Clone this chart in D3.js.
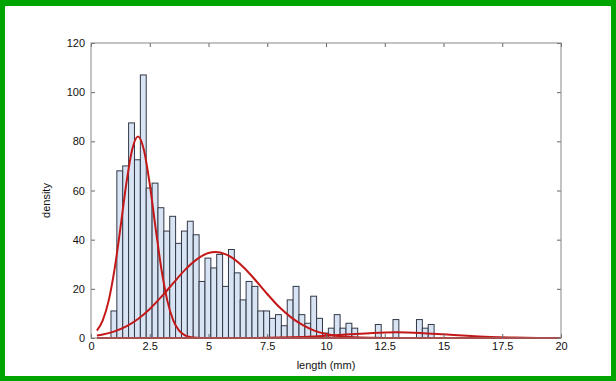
<!DOCTYPE html>
<html>
<head>
<meta charset="utf-8">
<script src="https://cdn.jsdelivr.net/npm/d3@7"></script>
<style>
  body { margin: 0; background: #00a400; }
  text { font-family: "Liberation Sans", Arial, sans-serif; }
</style>
</head>
<body>
<div id="chart"></div>
<script>
// histogram bins (centres in mm) and their heights
const binWidth = 0.25;
const binCenters = [0.975, 1.225, 1.475, 1.725, 1.975, 2.225, 2.475, 2.725, 2.975, 3.225,
  3.475, 3.725, 3.975, 4.225, 4.475, 4.725, 4.975, 5.225, 5.475, 5.725,
  5.975, 6.225, 6.475, 6.725, 6.975, 7.225, 7.475, 7.725, 7.975, 8.225,
  8.475, 8.725, 8.975, 9.225, 9.475, 9.725, 9.975, 10.225, 10.475, 10.725,
  10.975, 11.225, 11.475, 11.725, 11.975, 12.225, 12.475, 12.725, 12.975, 13.225,
  13.475, 13.725, 13.975, 14.225, 14.475];
const density = [11, 68, 70, 87.5, 72.5, 107, 61, 63, 53, 43.5,
  49.5, 38.5, 43.5, 47.5, 42, 23, 32.5, 28.5, 34, 21,
  36, 26.5, 15.5, 23, 21, 11, 11, 8, 9.5, 5,
  15.5, 21, 9.5, 6, 17, 8, 2, 4, 9.5, 4,
  6, 4, 0, 0, 0, 5.5, 0, 0, 7.5, 0,
  0, 0, 7.5, 4, 5.5];

// fitted components
const fit1X = [0.25, 0.5, 0.75, 1, 1.25, 1.5, 1.75, 2, 2.25, 2.5, 2.75, 3, 3.25, 3.5, 3.75, 4, 4.25, 4.5, 5, 20];
const fit1Y = [3, 7.2, 15.1, 27.8, 44.6, 62.6, 76.6, 82, 76.6, 62.6, 44.6, 27.8, 15.1, 7.2, 3, 1.1, 0.35, 0.1, 0, 0];
const fit2X = [0.25, 0.5, 1, 1.5, 2, 2.5, 3, 3.5, 4, 4.5, 5, 5.3, 5.5, 6, 6.5, 7, 7.5, 8, 8.5, 9, 9.5, 10, 10.5, 11, 11.5, 12, 13, 20];
const fit2Y = [1, 1.4, 2.7, 4.7, 7.7, 11.8, 16.8, 22.3, 27.7, 32, 34.6, 35, 34.8, 32.7, 28.7, 23.5, 17.9, 12.7, 8.5, 5.3, 3, 1.6, 0.8, 0.4, 0.2, 0.1, 0, 0];
const fit3X = [0.25, 6, 7, 8, 9, 10, 11, 12, 13, 14, 15, 16, 17, 18, 19, 20];
const fit3Y = [0, 0, 0.05, 0.17, 0.44, 0.9, 1.52, 2.07, 2.3, 2.07, 1.52, 0.9, 0.44, 0.17, 0.05, 0.01];

const xTicks = [0, 2.5, 5, 7.5, 10, 12.5, 15, 17.5, 20];
const yTicks = [0, 20, 40, 60, 80, 100, 120];

const W = 616, H = 381;
const margin = {top: 43, right: 55, bottom: 43, left: 91};
const width = W - margin.left - margin.right;
const height = H - margin.top - margin.bottom;

const svg = d3.select('#chart').append('svg')
    .attr('width', W)
    .attr('height', H);

// green frame
svg.append('rect').attr('width', W).attr('height', H).attr('fill', '#00a400');
svg.append('rect').attr('x', 5).attr('y', 6)
    .attr('width', W - 10).attr('height', H - 11).attr('fill', '#fff');

const chart = svg.append('g')
    .attr('transform', `translate(${margin.left}, ${margin.top})`);

const x = d3.scaleLinear().domain([0, 20]).range([0, width]);
const y = d3.scaleLinear().domain([0, 120]).range([height, 0]);

// bars
chart.selectAll('.bar')
    .data(binCenters.map((c, i) => ({c: c, v: density[i]})).filter(d => d.v > 0))
    .enter()
    .append('rect')
    .attr('class', 'bar')
    .attr('x', d => x(d.c - binWidth / 2))
    .attr('width', d => x(d.c + binWidth / 2) - x(d.c - binWidth / 2))
    .attr('y', d => y(d.v))
    .attr('height', d => height - y(d.v))
    .attr('fill', '#d8e4f4')
    .attr('stroke', '#323846')
    .attr('stroke-width', 1);

// fitted curves
const line = d3.line()
    .x(d => x(d[0]))
    .y(d => y(d[1]))
    .curve(d3.curveMonotoneX);

[[fit1X, fit1Y], [fit2X, fit2Y], [fit3X, fit3Y]].forEach(f => {
  chart.append('path')
      .datum(f[0].map((v, i) => [v, f[1][i]]))
      .attr('d', line)
      .attr('fill', 'none')
      .attr('stroke', '#c41818')
      .attr('stroke-width', 2);
});

// axes, MATLAB style ticks pointing inwards on all four sides
const styleAxis = g => {
  g.select('.domain').remove();
  g.selectAll('line').attr('stroke', '#666');
  g.selectAll('text')
      .attr('fill', '#111')
      .attr('font-size', '11px')
      .attr('font-family', '"Liberation Sans", Arial, sans-serif');
};

chart.append('g')
    .attr('transform', `translate(0, ${height})`)
    .call(d3.axisBottom(x).tickValues(xTicks).tickFormat(d => d).tickSize(-4).tickPadding(4))
    .call(styleAxis);
chart.append('g')
    .call(d3.axisTop(x).tickValues(xTicks).tickFormat('').tickSize(-4))
    .call(styleAxis);
chart.append('g')
    .call(d3.axisLeft(y).tickValues(yTicks).tickSize(-4).tickPadding(6))
    .call(styleAxis);
chart.append('g')
    .attr('transform', `translate(${width}, 0)`)
    .call(d3.axisRight(y).tickValues(yTicks).tickFormat('').tickSize(-4))
    .call(styleAxis);

chart.append('rect')
    .attr('width', width)
    .attr('height', height)
    .attr('fill', 'none')
    .attr('stroke', '#888')
    .attr('stroke-width', 1);

// axis labels
chart.append('text')
    .attr('x', width / 2)
    .attr('y', height + 31)
    .attr('text-anchor', 'middle')
    .attr('font-size', '11px')
    .attr('fill', '#111')
    .text('length (mm)');

chart.append('text')
    .attr('transform', `translate(${-41}, ${height / 2 + 10}) rotate(-90)`)
    .attr('text-anchor', 'middle')
    .attr('font-size', '11px')
    .attr('fill', '#111')
    .text('density');
</script>
</body>
</html>
